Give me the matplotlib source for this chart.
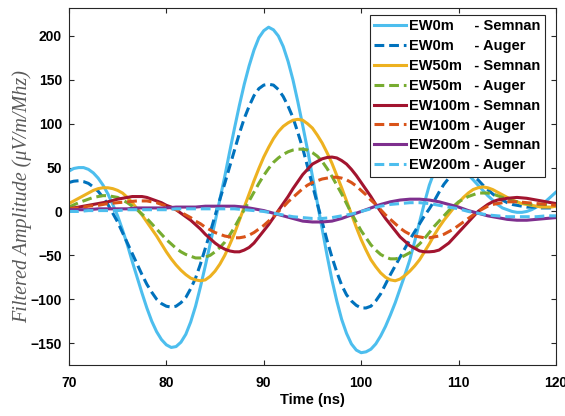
import numpy as np
import matplotlib
matplotlib.use('Agg')
import matplotlib.pyplot as plt

# time axes (ns): half-ns reading for the larger pulses, 1 ns for EW200m
time_fine = np.arange(70, 120.25, 0.5)
time_coarse = np.arange(70, 121, 1)

# EW0m
ew0_semnan = [46, 49, 50, 50, 48, 44, 38, 30, 20, 8,
              -5, -21, -38, -57, -75, -93, -110, -125, -137, -146,
              -152, -155, -154, -149, -140, -126, -108, -86, -62, -37,
              -12, 14, 40, 68, 95, 121, 145, 166, 184, 198,
              206, 210, 207, 200, 188, 171, 150, 125, 98, 70,
              40, 10, -20, -50, -78, -102, -123, -139, -151, -158,
              -161, -160, -157, -151, -142, -131, -118, -104, -88, -72,
              -55, -34, -12, 10, 30, 45, 55, 59, 60, 57,
              52, 47, 42, 36, 30, 24, 18, 13, 8, 4,
              2, 0, -1, -1, 0, 2, 5, 8, 12, 17,
              22]
ew0_auger = [33, 34.5, 35, 34, 32, 28, 23, 16, 8, -2,
             -12, -24, -36, -48, -60, -72, -83, -92, -100, -105,
             -108, -109, -108, -104, -98, -88, -76, -60, -42, -24,
             -5, 14, 32, 51, 70, 89, 106, 120, 132, 140,
             144, 145, 144, 139, 131, 120, 107, 90, 72, 51,
             30, 9, -12, -33, -52, -69, -84, -95, -102, -107,
             -110, -110, -108, -102, -94, -83, -72, -62, -52, -42,
             -32, -23, -14, -5, 3, 12, 22, 31, 38, 43,
             46, 46, 44, 40, 36, 30, 25, 20, 16, 13,
             10, 8, 7, 6, 5, 5, 5, 4, 4, 4,
             5]
# EW50m
ew50_semnan = [9, 12, 15, 18, 21, 24, 26, 27, 27, 26,
               24, 21, 16, 10, 3, -4, -12, -20, -28, -37,
               -46, -54, -61, -67, -72, -76, -78, -79, -78, -74,
               -68, -60, -50, -38, -25, -10, 5, 20, 35, 49,
               62, 73, 83, 91, 97, 101, 104, 105, 104, 100,
               95, 87, 78, 67, 55, 41, 27, 12, -3, -18,
               -32, -44, -55, -63, -70, -75, -78, -79, -77, -73,
               -68, -62, -55, -46, -37, -27, -18, -10, -3, 4,
               10, 16, 21, 25, 27, 28, 27, 25, 22, 19,
               16, 13, 11, 9, 8, 7, 6, 5, 5, 5,
               6]
ew50_auger = [5, 7.5, 10, 12, 14, 16, 17, 18, 18, 17,
              16, 13, 10, 6, 2, -3, -8, -14, -20, -26,
              -32, -37, -42, -46, -49, -51, -53, -53, -52, -50,
              -46, -41, -35, -27, -18, -8, 2, 12, 22, 32,
              41, 49, 56, 61, 65, 68, 70, 71, 71, 70,
              67, 63, 57, 49, 40, 30, 20, 9, -2, -12,
              -22, -30, -38, -44, -49, -52, -54, -54, -53, -50,
              -47, -42, -37, -31, -24, -17, -11, -5, 1, 6,
              11, 14, 17, 19, 21, 21, 21, 20, 18, 16,
              14, 12, 11, 10, 9, 8, 8, 8, 8, 8,
              8]
# EW100m
ew100_semnan = [3, 4, 5, 6, 7, 8, 9, 10, 11, 12.5,
                14, 15, 16, 17, 17, 17, 16, 14, 12, 10,
                7, 5, 2, -2, -6, -10, -15, -20, -26, -31,
                -36, -40, -43, -45, -46, -46, -44, -41, -36, -29,
                -22, -15, -7, 1, 9, 17, 26, 34, 42, 48,
                54, 57, 60, 61.5, 62, 61, 58, 54, 48, 41,
                33, 25, 17, 8, 0, -8, -15, -22, -29, -34,
                -39, -42, -45, -46, -46, -45.5, -44, -40, -36, -30,
                -24, -18, -12, -6, 0, 4, 8, 11, 13, 14,
                15, 15.5, 16, 15.5, 15, 14, 13, 12, 11, 10,
                9]
ew100_auger = [3, 3.5, 4, 5, 6, 6.5, 7, 8, 9, 9.5,
               10, 10.5, 11, 11.5, 12, 12, 12, 11, 10, 8,
               6, 4, 2, -1, -4, -7, -11, -14, -18, -21,
               -24, -26, -28, -29, -30, -30, -29, -27, -24, -20,
               -16, -11, -6, 0, 5, 11, 16, 21, 26, 30,
               33, 35, 37, 38, 39, 39, 38, 36, 33, 29,
               24, 19, 13, 8, 2, -4, -9, -14, -19, -23,
               -26, -28, -29, -30, -30, -29, -28, -26, -23, -20,
               -16, -12, -8, -4, 0, 3, 6, 8, 9, 10,
               11, 11, 11, 10.5, 10, 9.5, 9, 8.5, 8, 7.5,
               7]
# EW200m (1 ns steps)
ew200_semnan = [2, 2, 2, 3, 3, 3, 3, 4, 4, 4,
                4, 5, 5, 5, 6, 6, 6, 6, 5, 3,
                1, -2, -5, -8, -11, -12, -12, -11, -8, -4,
                0, 4, 8, 11, 13, 14, 14, 13, 11, 8,
                5, 1, -2, -5, -7, -9, -10, -10, -9, -8,
                -7]
ew200_auger = [0, 0, 1, 1, 1, 1, 2, 2, 2, 2,
               2, 3, 3, 3, 3, 3, 3, 3, 2, 1,
               0, -2, -4, -6, -7, -8, -8, -7, -5, -3,
               0, 3, 6, 8, 9, 10, 10, 9, 7, 5,
               3, 0, -2, -4, -5, -6, -6, -6, -6, -5,
               -5]

series = [
    (time_fine,   ew0_semnan,   'EW0m     - Semnan', '#4DBEEE', '-'),
    (time_fine,   ew0_auger,    'EW0m     - Auger',  '#0072BD', '--'),
    (time_fine,   ew50_semnan,  'EW50m   - Semnan',  '#EDB120', '-'),
    (time_fine,   ew50_auger,   'EW50m   - Auger',   '#77AC30', '--'),
    (time_fine,   ew100_semnan, 'EW100m - Semnan',   '#A2142F', '-'),
    (time_fine,   ew100_auger,  'EW100m - Auger',    '#D95319', '--'),
    (time_coarse, ew200_semnan, 'EW200m - Semnan',   '#7E2F8E', '-'),
    (time_coarse, ew200_auger,  'EW200m - Auger',    '#4DBEEE', '--'),
]

plt.rcParams['font.family'] = ['Liberation Sans', 'DejaVu Sans']

fig = plt.figure(figsize=(5.65, 4.16), dpi=100)
ax = fig.add_axes([0.122, 0.1226, 0.862, 0.8584])

for t, vals, label, color, ls in series:
    if ls == '--':
        ax.plot(t, vals, color=color, linewidth=2.2, label=label,
                linestyle=(0, (3.2, 1.6)))
    else:
        ax.plot(t, vals, color=color, linewidth=2.2, label=label)

ax.set_xlim(70, 120)
ax.set_ylim(-175, 232)
ax.set_xticks([70, 80, 90, 100, 110, 120])
ax.set_yticks([-150, -100, -50, 0, 50, 100, 150, 200])

ax.tick_params(direction='in', top=True, right=True, length=3.5, width=0.8,
               color='#262626', labelsize=10)
ax.tick_params(axis='x', pad=8)
ax.tick_params(axis='y', pad=5)
for lbl in ax.get_xticklabels() + ax.get_yticklabels():
    lbl.set_fontweight('bold')
for sp in ax.spines.values():
    sp.set_color('#262626')
    sp.set_linewidth(0.8)

ax.set_xlabel('Time (ns)', fontsize=10.5, fontweight='bold', labelpad=2)
ax.set_ylabel('Filtered Amplitude (μV/m/Mhz)', fontsize=14.5,
              family=['Liberation Serif', 'DejaVu Serif'], style='italic',
              color='#5a5a5a')
ax.yaxis.set_label_coords(-0.075, 0.473)

leg = ax.legend(loc='upper right', bbox_to_anchor=(0.977, 0.980),
                borderaxespad=0, prop={'weight': 'bold', 'size': 10.5},
                handlelength=2.2, handletextpad=0.2, labelspacing=0.4,
                borderpad=0.3, fancybox=False, framealpha=1, edgecolor='#262626')
leg.get_frame().set_linewidth(0.8)

fig.savefig('out.png', dpi=100)
